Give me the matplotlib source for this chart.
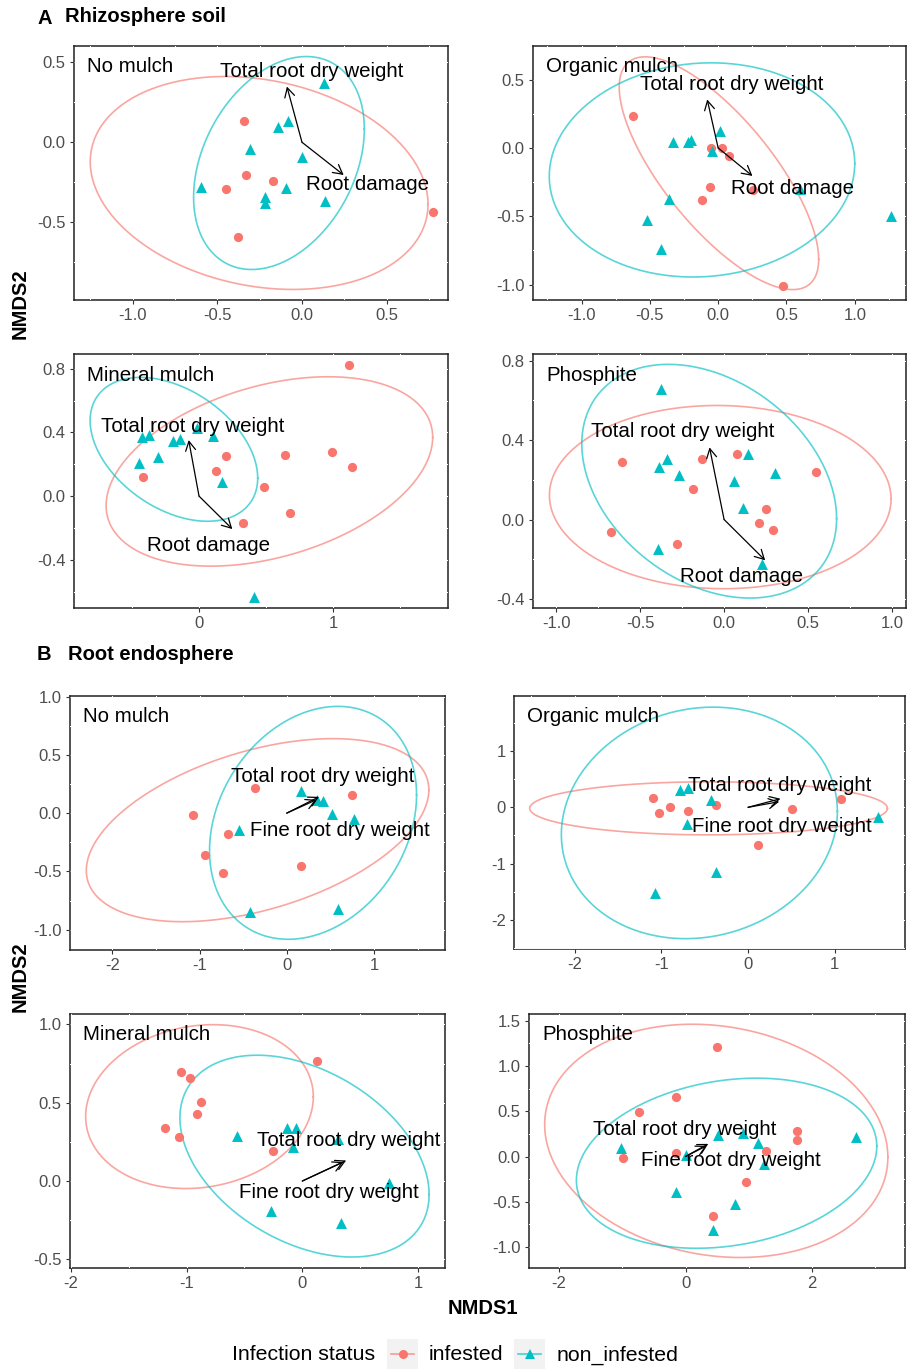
import numpy as np
import matplotlib
matplotlib.use('Agg')
import matplotlib.pyplot as plt
from matplotlib.patches import Rectangle
from matplotlib.lines import Line2D
from matplotlib.ticker import FixedLocator

plt.rcParams['font.family'] = ['Liberation Sans', 'DejaVu Sans']
plt.rcParams['axes.unicode_minus'] = False

RED = '#F8766D'
CYAN = '#00BFC4'

# ---------------- DATA ----------------
panel_names = ['No mulch', 'Organic mulch', 'Mineral mulch', 'Phosphite']
section_titles = [('A', 'Rhizosphere soil'), ('B', 'Root endosphere')]
legend_title = 'Infection status'
legend_labels = ['infested', 'non_infested']
vec_names_A = ['Total root dry weight', 'Root damage']
vec_names_B = ['Total root dry weight', 'Fine root dry weight']

# A - No mulch
A1_inf_x = [-0.343, -0.331, -0.447, -0.169, -0.378, 0.772]
A1_inf_y = [0.136, -0.203, -0.295, -0.245, -0.592, -0.439]
A1_non_x = [0.132, -0.085, -0.140, -0.305, 0.002, -0.596, -0.096, -0.220, -0.220, 0.134]
A1_non_y = [0.370, 0.136, 0.098, -0.044, -0.090, -0.278, -0.289, -0.341, -0.383, -0.366]
A1_ell_inf = (-0.253, -0.255, 0.997, 0.667, -0.20)
A1_ell_non = (-0.136, -0.130, 0.504, 0.667, 0.32)
A1_vec = [(-0.089, 0.349), (0.246, -0.205)]
A1_lab = [(0.059, 0.444), (0.384, -0.262)]

# A - Organic mulch
A2_inf_x = [-0.620, -0.051, 0.029, 0.076, -0.061, -0.117, 0.256, 0.476]
A2_inf_y = [0.232, 0.0, 0.0, -0.056, -0.283, -0.378, -0.305, -1.012]
A2_non_x = [0.012, -0.329, -0.224, -0.202, -0.044, -0.359, -0.522, -0.415, 0.598, 1.268]
A2_non_y = [0.122, 0.044, 0.044, 0.056, -0.022, -0.371, -0.529, -0.737, -0.298, -0.495]
A2_ell_inf = (0.006, -0.185, 0.730, 0.851, -0.74)
A2_ell_non = (-0.118, -0.161, 1.118, 0.783, 0.06)
A2_vec = [(-0.080, 0.354), (0.251, -0.205)]
A2_lab = [(0.098, 0.463), (0.544, -0.298)]

# A - Mineral mulch
A3_inf_x = [1.119, 0.201, 0.640, 0.993, 1.136, 0.127, -0.419, 0.486, 0.680, 0.328]
A3_inf_y = [0.825, 0.255, 0.258, 0.276, 0.180, 0.159, 0.121, 0.059, -0.103, -0.170]
A3_non_x = [-0.422, -0.375, -0.196, -0.144, -0.017, 0.107, -0.303, -0.444, 0.174, 0.409]
A3_non_y = [0.369, 0.387, 0.346, 0.360, 0.431, 0.379, 0.247, 0.205, 0.090, -0.632]
A3_ell_inf = (0.524, 0.155, 1.216, 0.595, 0.36)
A3_ell_non = (-0.187, 0.294, 0.624, 0.452, -0.40)
A3_vec = [(-0.077, 0.352), (0.248, -0.207)]
A3_lab = [(-0.047, 0.436), (0.074, -0.308)]

# A - Phosphite
A4_inf_x = [-0.610, -0.129, 0.076, -0.185, 0.547, 0.250, 0.209, 0.294, -0.676, -0.284]
A4_inf_y = [0.291, 0.304, 0.331, 0.156, 0.239, 0.054, -0.017, -0.055, -0.064, -0.124]
A4_non_x = [-0.378, -0.342, -0.388, 0.145, -0.270, 0.306, 0.060, 0.115, -0.396, 0.225]
A4_non_y = [0.655, 0.304, 0.266, 0.328, 0.224, 0.232, 0.192, 0.059, -0.150, -0.225]
A4_ell_inf = (-0.023, 0.113, 1.019, 0.461, -0.02)
A4_ell_non = (-0.089, 0.193, 0.760, 0.588, -0.32)
A4_vec = [(-0.087, 0.363), (0.245, -0.205)]
A4_lab = [(-0.247, 0.442), (0.105, -0.286)]

# B - No mulch
B1_inf_x = [-0.359, 0.744, -1.080, -0.679, -0.935, -0.733, 0.168]
B1_inf_y = [0.214, 0.157, -0.017, -0.177, -0.363, -0.517, -0.454]
B1_non_x = [0.164, 0.344, 0.412, 0.515, 0.771, -0.542, -0.420, 0.584]
B1_non_y = [0.191, 0.117, 0.106, -0.003, -0.054, -0.146, -0.846, -0.826]
B1_ell_inf = (-0.334, -0.146, 1.964, 0.786, 0.44)
B1_ell_non = (0.302, -0.083, 1.187, 1.000, 0.24)
B1_vec = [(0.370, 0.140), (0.340, 0.115)]
B1_lab = [(0.412, 0.317), (0.611, -0.151)]

# B - Organic mulch
B2_inf_x = [-1.092, -1.031, -0.904, -0.692, -0.365, 0.508, 1.077, 0.119]
B2_inf_y = [0.159, -0.100, 0.006, -0.065, 0.041, -0.035, 0.142, -0.673]
B2_non_x = [-0.788, -0.692, -0.423, -0.708, 1.500, -0.369, -1.069]
B2_non_y = [0.307, 0.336, 0.130, -0.295, -0.165, -1.156, -1.522]
B2_ell_inf = (-0.456, -0.018, 2.063, 0.472, 0.00)
B2_ell_non = (-0.562, -0.277, 1.592, 2.059, 0.10)
B2_vec = [(0.373, 0.153), (0.358, 0.100)]
B2_lab = [(0.365, 0.395), (0.385, -0.342)]

# B - Mineral mulch
B3_inf_x = [0.124, -1.049, -0.971, -0.873, -0.908, -1.187, -1.063, -0.256]
B3_inf_y = [0.769, 0.695, 0.657, 0.502, 0.426, 0.341, 0.284, 0.189]
B3_non_x = [-0.130, -0.055, -0.562, -0.078, 0.311, 0.752, -0.271, 0.334]
B3_non_y = [0.337, 0.337, 0.288, 0.220, 0.267, -0.013, -0.193, -0.267]
B3_ell_inf = (-0.888, 0.475, 0.983, 0.523, 0.12)
B3_ell_non = (0.019, 0.159, 1.076, 0.644, -0.38)
B3_vec = [(0.378, 0.131), (0.354, 0.121)]
B3_lab = [(0.398, 0.256), (0.225, -0.076)]

# B - Phosphite
B4_inf_x = [0.496, -0.158, -0.734, 1.757, 1.757, -0.153, 1.272, -0.992, 0.955, 0.433]
B4_inf_y = [1.215, 0.659, 0.494, 0.280, 0.184, 0.041, 0.059, -0.018, -0.284, -0.659]
B4_non_x = [-1.013, 0.507, 0.902, 1.150, 2.697, 0.005, 1.240, -0.158, 0.776, 0.438]
B4_non_y = [0.099, 0.239, 0.265, 0.147, 0.214, 0.018, -0.085, -0.387, -0.523, -0.807]
B4_ell_inf = (0.486, 0.173, 2.713, 1.289, -0.14)
B4_ell_non = (0.649, -0.074, 2.375, 0.940, 0.20)
B4_vec = [(0.359, 0.140), (0.332, 0.118)]
B4_lab = [(-0.021, 0.302), (0.718, -0.048)]

# axis limits and tick labels
A1_xlim, A1_ylim = (-1.346, 0.862), (-0.988, 0.603)
A2_xlim, A2_ylim = (-1.355, 1.375), (-1.112, 0.745)
A3_xlim, A3_ylim = (-0.931, 1.854), (-0.703, 0.893)
A4_xlim, A4_ylim = (-1.14, 1.085), (-0.445, 0.833)
B1_xlim, B1_ylim = (-2.485, 1.815), (-1.175, 1.006)
B2_xlim, B2_ylim = (-2.70, 1.81), (-2.52, 1.98)
B3_xlim, B3_ylim = (-2.006, 1.232), (-0.555, 1.066)
B4_xlim, B4_ylim = (-2.475, 3.47), (-1.232, 1.575)

A1_xt, A1_yt = ['-1.0', '-0.5', '0.0', '0.5'], ['-0.5', '0.0', '0.5']
A2_xt, A2_yt = ['-1.0', '-0.5', '0.0', '0.5', '1.0'], ['-1.0', '-0.5', '0.0', '0.5']
A3_xt, A3_yt = ['0', '1'], ['-0.4', '0.0', '0.4', '0.8']
A4_xt, A4_yt = ['-1.0', '-0.5', '0.0', '0.5', '1.0'], ['-0.4', '0.0', '0.4', '0.8']
B1_xt, B1_yt = ['-2', '-1', '0', '1'], ['-1.0', '-0.5', '0.0', '0.5', '1.0']
B2_xt, B2_yt = ['-2', '-1', '0', '1'], ['-2', '-1', '0', '1']
B3_xt, B3_yt = ['-2', '-1', '0', '1'], ['-0.5', '0.0', '0.5', '1.0']
B4_xt, B4_yt = ['-2', '0', '2'], ['-1.0', '-0.5', '0.0', '0.5', '1.0', '1.5']

# ---------------- LAYOUT (pixels) ----------------
W, H = 907, 1369
boxes = {
    'A1': (74, 46, 448, 300), 'A2': (533, 46, 906, 300),
    'A3': (74, 354, 448, 608), 'A4': (533, 354, 906, 608),
    'B1': (70, 696, 445, 950), 'B2': (514, 696, 905, 949),
    'B3': (70, 1014, 445, 1268), 'B4': (529, 1014, 905, 1268),
}

fig = plt.figure(figsize=(W / 100, H / 100), dpi=100)

def ellipse_xy(p, n=240):
    cx, cy, hx, hy, r = p
    t = np.linspace(0, 2 * np.pi, n)
    return cx + hx * np.cos(t), cy + hy * (r * np.cos(t) + np.sqrt(1 - r * r) * np.sin(t))

def draw_panel(key, name, inf_x, inf_y, non_x, non_y, ell_inf, ell_non,
               vec, lab, vnames, xlim, ylim, xt, yt):
    x0, y0, x1, y1 = boxes[key]
    ax = fig.add_axes([x0 / W, 1 - y1 / H, (x1 - x0) / W, (y1 - y0) / H])
    ax.set_xlim(*xlim)
    ax.set_ylim(*ylim)
    xv = [float(s) for s in xt]
    yv = [float(s) for s in yt]
    ax.set_xticks(xv)
    ax.set_xticklabels(xt)
    ax.set_yticks(yv)
    ax.set_yticklabels(yt)
    # minor breaks (ggplot style) used only for white grid marks
    dx = xv[1] - xv[0]
    dy = yv[1] - yv[0]
    xm = np.arange(xv[0] - dx * 2, xv[-1] + dx * 2.01, dx / 2)
    ym = np.arange(yv[0] - dy * 2, yv[-1] + dy * 2.01, dy / 2)
    ax.xaxis.set_minor_locator(FixedLocator(xm))
    ax.yaxis.set_minor_locator(FixedLocator(ym))
    ax.tick_params(which='minor', length=0)
    ax.tick_params(which='major', length=3, width=0.8, color='#333333',
                   labelsize=12, labelcolor='#4D4D4D', pad=3)
    ax.grid(True, which='both', color='white', lw=0.7)
    ax.set_axisbelow(False)
    for s in ax.spines.values():
        s.set_linewidth(1.1)
        s.set_color('#222222')
    ax.set_facecolor('white')

    ex, ey = ellipse_xy(ell_inf)
    ax.plot(ex, ey, color=RED, lw=1.2, alpha=0.65, zorder=3)
    ex, ey = ellipse_xy(ell_non)
    ax.plot(ex, ey, color=CYAN, lw=1.2, alpha=0.65, zorder=3)
    ax.scatter(inf_x, inf_y, s=44, marker='o', color=RED, linewidths=0, zorder=4)
    ax.scatter(non_x, non_y, s=62, marker='^', color=CYAN, linewidths=0, zorder=4)

    for (vx, vy), (lx, ly), nm in zip(vec, lab, vnames):
        ax.annotate('', xy=(vx, vy), xytext=(0, 0),
                    arrowprops=dict(arrowstyle='->,head_length=0.55,head_width=0.3',
                                    lw=0.9, color='black', shrinkA=0, shrinkB=0,
                                    mutation_scale=12), zorder=5)
        ax.text(lx, ly, nm, fontsize=14.8, ha='center', va='center', color='black', zorder=6)

    ax.annotate(name, xy=(0, 1), xycoords='axes fraction', xytext=(13, -21),
                textcoords='offset pixels', fontsize=14.8, ha='left', va='center', zorder=6)
    return ax

draw_panel('A1', panel_names[0], A1_inf_x, A1_inf_y, A1_non_x, A1_non_y, A1_ell_inf, A1_ell_non,
           A1_vec, A1_lab, vec_names_A, A1_xlim, A1_ylim, A1_xt, A1_yt)
draw_panel('A2', panel_names[1], A2_inf_x, A2_inf_y, A2_non_x, A2_non_y, A2_ell_inf, A2_ell_non,
           A2_vec, A2_lab, vec_names_A, A2_xlim, A2_ylim, A2_xt, A2_yt)
draw_panel('A3', panel_names[2], A3_inf_x, A3_inf_y, A3_non_x, A3_non_y, A3_ell_inf, A3_ell_non,
           A3_vec, A3_lab, vec_names_A, A3_xlim, A3_ylim, A3_xt, A3_yt)
draw_panel('A4', panel_names[3], A4_inf_x, A4_inf_y, A4_non_x, A4_non_y, A4_ell_inf, A4_ell_non,
           A4_vec, A4_lab, vec_names_A, A4_xlim, A4_ylim, A4_xt, A4_yt)
draw_panel('B1', panel_names[0], B1_inf_x, B1_inf_y, B1_non_x, B1_non_y, B1_ell_inf, B1_ell_non,
           B1_vec, B1_lab, vec_names_B, B1_xlim, B1_ylim, B1_xt, B1_yt)
draw_panel('B2', panel_names[1], B2_inf_x, B2_inf_y, B2_non_x, B2_non_y, B2_ell_inf, B2_ell_non,
           B2_vec, B2_lab, vec_names_B, B2_xlim, B2_ylim, B2_xt, B2_yt)
draw_panel('B3', panel_names[2], B3_inf_x, B3_inf_y, B3_non_x, B3_non_y, B3_ell_inf, B3_ell_non,
           B3_vec, B3_lab, vec_names_B, B3_xlim, B3_ylim, B3_xt, B3_yt)
draw_panel('B4', panel_names[3], B4_inf_x, B4_inf_y, B4_non_x, B4_non_y, B4_ell_inf, B4_ell_non,
           B4_vec, B4_lab, vec_names_B, B4_xlim, B4_ylim, B4_xt, B4_yt)

# ---------------- overlay: titles, axis titles, legend ----------------
ov = fig.add_axes([0, 0, 1, 1], facecolor='none')
ov.set_xlim(0, W)
ov.set_ylim(H, 0)
ov.axis('off')

ov.text(37, 18, section_titles[0][0], fontsize=14.5, fontweight='bold', ha='left', va='center')
ov.text(65, 17, section_titles[0][1], fontsize=14.5, fontweight='bold', ha='left', va='center')
ov.text(37, 654, section_titles[1][0], fontsize=14.5, fontweight='bold', ha='left', va='center')
ov.text(68, 654, section_titles[1][1], fontsize=14.5, fontweight='bold', ha='left', va='center')

ov.text(20, 304, 'NMDS2', fontsize=14.5, fontweight='bold', rotation=90, ha='center', va='center')
ov.text(20, 977, 'NMDS2', fontsize=14.5, fontweight='bold', rotation=90, ha='center', va='center')
ov.text(483, 1308, 'NMDS1', fontsize=14.5, fontweight='bold', ha='center', va='center')

ov.text(232, 1355, legend_title, fontsize=15.3, ha='left', va='center')
for kx, col, mk, ms, lb, tx in [(387, RED, 'o', 6.5, legend_labels[0], 429),
                                (514, CYAN, '^', 7.5, legend_labels[1], 557)]:
    ov.add_patch(Rectangle((kx, 1339), 31, 30, facecolor='#F2F2F2', edgecolor='none'))
    ov.add_line(Line2D([kx + 4, kx + 27], [1354, 1354], color=col, lw=1.2, alpha=0.7))
    ov.plot([kx + 15.5], [1354], marker=mk, color=col, markersize=ms, markeredgewidth=0)
    ov.text(tx, 1355, lb, fontsize=15.3, ha='left', va='center')

fig.savefig('out.png', dpi=100, facecolor='white')
